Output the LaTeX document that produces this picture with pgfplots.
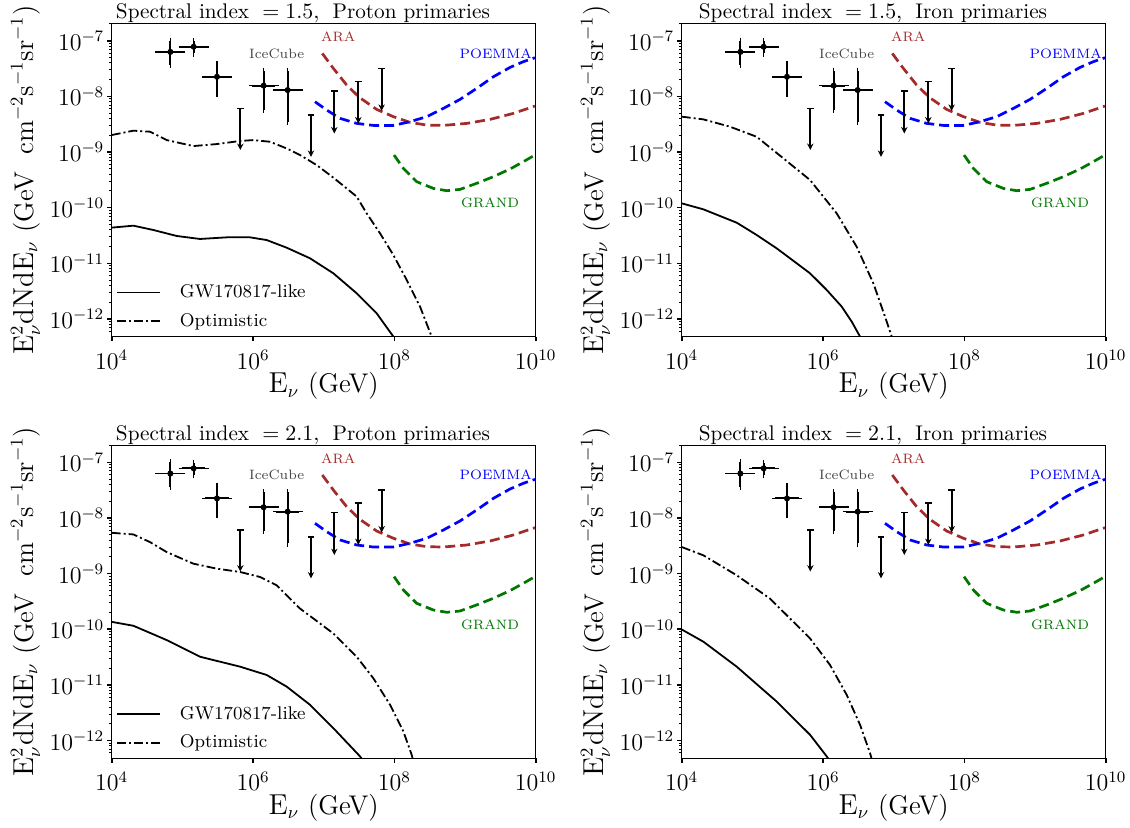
\documentclass[border=0pt]{standalone}
\usepackage{pgfplots}
\usepackage{pgfplotstable}
\pgfplotsset{compat=1.18}
\usetikzlibrary{arrows.meta}

\definecolor{arac}{HTML}{A52A2A}
\definecolor{grandc}{HTML}{007800}
\definecolor{icegray}{HTML}{444444}

\pgfplotstableread{
E F xm xp ym yp
6.76e4 6.3e-8 2.14e4 3.12e4 2.64e-8 3.7e-8
1.445e5 7.8e-8 4.57e4 6.68e4 1.9e-8 1.9e-8
3.09e5 2.25e-8 9.76e4 1.428e5 1.12e-8 1.51e-8
1.413e6 1.56e-8 4.47e5 6.53e5 0.98e-8 1.33e-8
3.09e6 1.3e-8 9.76e5 1.428e6 0.95e-8 1.59e-8
}\icecubetab

\pgfplotstableread{
E top
6.61e5 6.1e-9
6.61e6 4.6e-9
1.413e7 1.25e-8
3.09e7 1.86e-8
6.61e7 3.18e-8
}\ultopstab

\newcommand{\uplim}[3]{\addplot[black, line width=0.9pt, forget plot, -{Stealth[length=3.2pt,width=3.2pt]}] coordinates {(#1,#2) (#1,#3)};}

\newcommand{\commonplots}{%
\addplot[arac, line width=1.35pt, dash pattern=on 5pt off 2.5pt, forget plot] coordinates {
(9.55e6,5.92e-8) (1.371e7,3.18e-8) (2.113e7,1.60e-8) (3.199e7,9.59e-9) (5.623e7,5.83e-9) (9.68e7,4.32e-9) (1.667e8,3.41e-9) (2.871e8,3.05e-9) (4.932e8,3.01e-9) (1.057e9,3.27e-9) (2.259e9,3.86e-9) (4.831e9,4.95e-9) (9.77e9,6.70e-9)};
\addplot[blue, line width=1.35pt, dash pattern=on 5pt off 2.5pt, forget plot] coordinates {
(7.53e6,8.02e-9) (1.102e7,5.68e-9) (1.702e7,4.03e-9) (2.931e7,3.27e-9) (5.047e7,3.01e-9) (9.68e7,3.01e-9) (1.667e8,3.51e-9) (2.871e8,4.32e-9) (4.932e8,6.08e-9) (8.49e8,8.83e-9) (1.462e9,1.393e-8) (2.518e9,2.254e-8) (4.335e9,3.32e-8) (6.68e9,4.20e-8) (9.77e9,4.95e-8)};
\addplot[grandc, line width=1.35pt, dash pattern=on 5pt off 2.5pt, forget plot] coordinates {
(9.89e7,8.83e-10) (1.34e8,5.09e-10) (2.07e8,2.93e-10) (3.565e8,2.22e-10) (5.51e8,2.02e-10) (8.49e8,2.13e-10) (1.462e9,2.74e-10) (2.518e9,3.61e-10) (4.335e9,4.95e-10) (6.68e9,6.70e-10) (9.77e9,8.83e-10)};
\addplot[black, only marks, mark=*, mark size=1.3pt, forget plot,
  error bars/x dir=both, error bars/x explicit, error bars/y dir=both, error bars/y explicit,
  error bars/error bar style={line width=0.9pt, black}, error bars/error mark options={mark size=1.6pt, line width=0.8pt}]
  table[x=E, y=F, x error plus=xp, x error minus=xm, y error plus=yp, y error minus=ym] {\icecubetab};
\uplim{6.61e5}{6.1e-9}{1.09e-9}
\uplim{6.61e6}{4.6e-9}{8.2e-10}
\uplim{1.413e7}{1.25e-8}{2.16e-9}
\uplim{3.09e7}{1.86e-8}{3.27e-9}
\uplim{6.61e7}{3.18e-8}{5.5e-9}
\addplot[black, only marks, mark=-, mark size=1.6pt, mark options={line width=0.8pt}, forget plot] table[x=E, y=top] {\ultopstab};
\node[font=\fontsize{6.8}{8}\selectfont, text=arac] at (axis cs:1.61e7,1.18e-7) {ARA};
\node[font=\fontsize{6.8}{8}\selectfont, text=icegray] at (axis cs:2.16e6,5.92e-8) {IceCube};
\node[font=\fontsize{6.8}{8}\selectfont, text=blue] at (axis cs:2.72e9,5.92e-8) {POEMMA};
\node[font=\fontsize{6.8}{8}\selectfont, text=grandc] at (axis cs:2.26e9,1.20e-10) {GRAND};
}

\pgfplotsset{
  legend image code/.code={\draw[#1] (0pt,0pt) -- (21.5pt,0pt);},
}
\pgfplotsset{
  every axis/.append style={
    scale only axis, width=212pt, height=156.6pt,
    xmin=1e4, xmax=1e10, ymin=4.8e-13, ymax=2.04e-7,
    xtick={1e4,1e6,1e8,1e10},
    ytick={1e-12,1e-11,1e-10,1e-9,1e-8,1e-7},
    minor ytick={6e-13,7e-13,8e-13,9e-13,
      2e-12,3e-12,4e-12,5e-12,6e-12,7e-12,8e-12,9e-12,
      2e-11,3e-11,4e-11,5e-11,6e-11,7e-11,8e-11,9e-11,
      2e-10,3e-10,4e-10,5e-10,6e-10,7e-10,8e-10,9e-10,
      2e-9,3e-9,4e-9,5e-9,6e-9,7e-9,8e-9,9e-9,
      2e-8,3e-8,4e-8,5e-8,6e-8,7e-8,8e-8,9e-8,2e-7},
    tick align=outside, tick pos=left,
    major tick length=2.2pt, minor tick length=1.3pt,
    tick label style={font=\fontsize{11.5}{13}\selectfont},
    yticklabel style={xshift=2pt},
    xticklabel style={yshift=-1pt},
    axis line style={line width=0.6pt},
    xlabel={$\mathrm{E_\nu}$ (GeV)},
    ylabel={$\mathrm{E_\nu^2dNdE_\nu}$ (GeV\ \ cm$^{-2}$s$^{-1}$sr$^{-1}$)},
    label style={font=\fontsize{13.5}{16}\selectfont},
    xlabel style={at={(axis description cs:0.5,0)}, anchor=base, yshift=-28pt},
    ylabel style={at={(axis description cs:-0.203,0.5)}, anchor=center},
    every axis title shift=0pt,
    title style={at={(axis description cs:0.451,1)}, anchor=base, yshift=2.5pt, font=\fontsize{10.6}{13}\selectfont},
    legend style={at={(axis description cs:0,0)}, anchor=south west, draw=none, fill=none,
      font=\fontsize{9.2}{11}\selectfont, row sep=2.4pt, xshift=-1pt, yshift=-0.5pt},
    legend cell align=left,
  },
  every major tick/.append style={line width=0.8pt, black},
  every minor tick/.append style={line width=0.5pt, black},
}

\begin{document}
\begin{tikzpicture}

% Top left
\begin{loglogaxis}[at={(55.85pt,245.15pt)}, anchor=south west,
  title={Spectral index $\;=1.5,\;$ Proton primaries}]
\addplot[black, line width=0.9pt] coordinates {(1e4,4.38e-11) (2.03e4,4.75e-11) (3.89e4,3.97e-11) (8.32e4,3.10e-11) (1.778e5,2.74e-11) (4.24e5,2.93e-11) (9.08e5,2.93e-11) (1.56e6,2.62e-11) (2.99e6,1.91e-11) (6.41e6,1.23e-11) (1.371e7,6.61e-12) (2.931e7,2.89e-12) (5.623e7,1.26e-12) (9.68e7,4.82e-13) (1.202e8,3.16e-13)};
\addlegendentry{\hspace{7.5pt}GW170817-like}
\addplot[black, line width=0.9pt, dash pattern=on 4.5pt off 1.5pt on 1pt off 1.5pt] coordinates {(1e4,2.02e-9) (2.03e4,2.42e-9) (3.48e4,2.32e-9) (6.0e4,1.64e-9) (1.432e5,1.28e-9) (3.06e5,1.39e-9) (6.55e5,1.58e-9) (1.012e6,1.64e-9) (1.742e6,1.53e-9) (2.99e6,1.16e-9) (4.62e6,8.83e-10) (7.96e6,5.83e-10) (1.371e7,3.46e-10) (2.113e7,2.22e-10) (2.931e7,1.58e-10) (4.055e7,7.91e-11) (6.27e7,3.46e-11) (9.68e7,1.41e-11) (1.496e8,5.02e-12) (2.307e8,1.67e-12) (3.37e8,4.82e-13) (3.98e8,2.42e-13)};
\addlegendentry{\hspace{7.5pt}Optimistic}
\commonplots
\end{loglogaxis}

% Top right
\begin{loglogaxis}[at={(340.85pt,245.15pt)}, anchor=south west,
  title={Spectral index $\;=1.5,\;$ Iron primaries}]
\addplot[black, line width=0.9pt] coordinates {(1e4,1.197e-10) (2.03e4,9.33e-11) (6.0e4,5.38e-11) (1.151e5,3.23e-11) (2.208e5,1.86e-11) (6.55e5,6.61e-12) (1.127e6,3.32e-12) (1.837e6,1.67e-12) (2.547e6,8.95e-13) (3.34e6,4.82e-13) (3.93e6,3.18e-13)};
\addplot[black, line width=0.9pt, dash pattern=on 4.5pt off 1.5pt on 1pt off 1.5pt] coordinates {(1e4,4.32e-9) (2.03e4,3.86e-9) (4.83e4,2.85e-9) (1.151e5,1.88e-9) (2.748e5,7.69e-10) (6.55e5,3.14e-10) (1.56e6,7.91e-11) (2.99e6,1.99e-11) (5.15e6,4.38e-12) (7.53e6,1.10e-12) (9.38e6,4.82e-13) (1.047e7,2.77e-13)};
\commonplots
\end{loglogaxis}

% Bottom left
\begin{loglogaxis}[at={(55.85pt,34.35pt)}, anchor=south west,
  title={Spectral index $\;=2.1,\;$ Proton primaries}]
\addplot[black, line width=0.9pt] coordinates {(1e4,1.36e-10) (2.03e4,1.156e-10) (6.0e4,6.40e-11) (1.778e5,3.21e-11) (6.55e5,2.13e-11) (1.56e6,1.51e-11) (2.99e6,9.33e-12) (6.41e6,4.39e-12) (1.371e7,1.67e-12) (3.266e7,5.20e-13) (3.846e7,3.95e-13)};
\addlegendentry{\hspace{7.5pt}GW170817-like}
\addplot[black, line width=0.9pt, dash pattern=on 4.5pt off 1.5pt on 1pt off 1.5pt] coordinates {(1e4,5.42e-9) (2.03e4,5.06e-9) (3.48e4,3.69e-9) (6.0e4,2.44e-9) (1.432e5,1.51e-9) (3.06e5,1.23e-9) (6.55e5,1.07e-9) (1.256e6,8.71e-10) (2.163e6,6.18e-10) (4.62e6,2.36e-10) (1.371e7,8.41e-11) (2.931e7,3.21e-11) (5.047e7,1.315e-11) (8.69e7,4.39e-12) (1.34e8,1.46e-12) (1.758e8,5.57e-13) (1.959e8,3.21e-13)};
\addlegendentry{\hspace{7.5pt}Optimistic}
\commonplots
\end{loglogaxis}

% Bottom right
\begin{loglogaxis}[at={(340.85pt,34.35pt)}, anchor=south west,
  title={Spectral index $\;=2.1,\;$ Iron primaries}]
\addplot[black, line width=0.9pt] coordinates {(1e4,9.93e-11) (2.03e4,5.97e-11) (6.0e4,2.13e-11) (2.208e5,5.02e-12) (6.55e5,1.27e-12) (1.127e6,5.20e-13) (1.259e6,4.24e-13)};
\addplot[black, line width=0.9pt, dash pattern=on 4.5pt off 1.5pt on 1pt off 1.5pt] coordinates {(1e4,3.01e-9) (2.03e4,2.13e-9) (6.0e4,9.33e-10) (1.778e5,3.56e-10) (3.06e5,1.79e-10) (6.55e5,6.85e-11) (1.256e6,2.28e-11) (2.163e6,6.62e-12) (3.34e6,1.92e-12) (4.62e6,5.97e-13) (5.15e6,3.69e-13)};
\commonplots
\end{loglogaxis}

\pgfresetboundingbox
\path[use as bounding box] (0,0) rectangle (565pt,413.5pt);
\end{tikzpicture}
\end{document}
